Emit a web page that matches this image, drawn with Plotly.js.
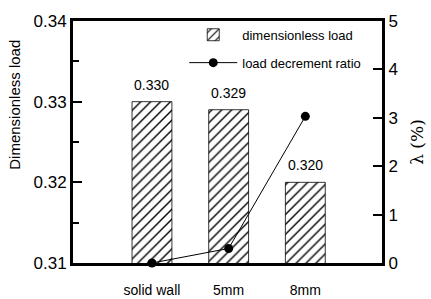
<!DOCTYPE html>
<html>
<head>
<meta charset="utf-8">
<script src="https://cdn.plot.ly/plotly-3.0.1.min.js"></script>
<style>html,body{margin:0;padding:0;background:#fff}#chart{width:431px;height:299px}</style>
</head>
<body>
<div id="chart"></div>
<script>
const categories = ["solid wall", "5mm", "8mm"];
const loadValues = [0.330, 0.329, 0.320];
const loadLabels = ["0.330", "0.329", "0.320"];
const ratioValues = [0, 0.3, 3.03];
const leftTicks = [0.31, 0.32, 0.33, 0.34];
const leftTickText = ["0.31", "0.32", "0.33", "0.34"];
const rightTicks = [0, 1, 2, 3, 4, 5];

const FONT = "'Liberation Sans', Arial, sans-serif";

const bars = {
  type: "bar",
  name: "dimensionless load",
  x: categories,
  y: loadValues,
  width: 0.52,
  legendgroup: "a",
  marker: {
    color: "white",
    line: {color: "black", width: 0.8},
    pattern: {shape: "/", size: 7, solidity: 0.2, fgcolor: "black", bgcolor: "white"}
  },
  hoverinfo: "skip"
};

const line = {
  type: "scatter",
  mode: "lines+markers",
  name: "load decrement ratio",
  x: categories,
  y: ratioValues,
  yaxis: "y2",
  legendgroup: "b",
  cliponaxis: false,
  line: {color: "black", width: 1},
  marker: {color: "black", size: 9},
  hoverinfo: "skip"
};

const annotations = categories.map((c, i) => ({
  x: c, y: loadValues[i], xref: "x", yref: "y",
  text: loadLabels[i], showarrow: false,
  yanchor: "bottom", yshift: 7,
  font: {family: FONT, size: 14, color: "black"}
}));
annotations.push({
  xref: "paper", yref: "paper", x: -0.19, y: 0.655,
  text: "Dimensionless load", textangle: -90, showarrow: false,
  xanchor: "center", yanchor: "middle",
  font: {family: FONT, size: 15, color: "black"}
});

const layout = {
  width: 431, height: 299,
  margin: {l: 73, r: 49, t: 21, b: 36},
  paper_bgcolor: "white", plot_bgcolor: "white",
  showlegend: true,
  font: {family: FONT, color: "black"},
  legend: {
    x: 0.36, y: 1.005, xanchor: "left", yanchor: "top",
    bgcolor: "rgba(0,0,0,0)", borderwidth: 0,
    font: {family: FONT, size: 13, color: "black"},
    traceorder: "grouped", tracegroupgap: 8, itemwidth: 48
  },
  xaxis: {
    type: "category", range: [-1.03, 3],
    showline: true, linecolor: "black", linewidth: 3, mirror: true,
    ticks: "", showgrid: false, zeroline: false,
    tickfont: {family: FONT, size: 14, color: "black"},
    ticklabelstandoff: 12
  },
  yaxis: {
    range: [0.31, 0.34],
    tickvals: leftTicks, ticktext: leftTickText,
    ticks: "inside", ticklen: 9, tickwidth: 2, tickcolor: "black",
    minor: {dtick: 0.005, tick0: 0.31, ticks: "inside", ticklen: 6, tickwidth: 2, tickcolor: "black"},
    showline: true, linecolor: "black", linewidth: 3,
    showgrid: false, zeroline: false,
    tickfont: {family: FONT, size: 17, color: "black"}
  },
  yaxis2: {
    overlaying: "y", side: "right", range: [0, 5],
    tickvals: rightTicks,
    ticks: "inside", ticklen: 9, tickwidth: 2, tickcolor: "black",
    showline: true, linecolor: "black", linewidth: 3,
    showgrid: false, zeroline: false,
    tickfont: {family: FONT, size: 17, color: "black"},
    title: {text: "λ (%)", standoff: 15, font: {family: "'DejaVu Serif', serif", size: 17, color: "black"}}
  },
  annotations: annotations
};

Plotly.newPlot("chart", [bars, line], layout, {staticPlot: true, displayModeBar: false});
</script>
</body>
</html>
